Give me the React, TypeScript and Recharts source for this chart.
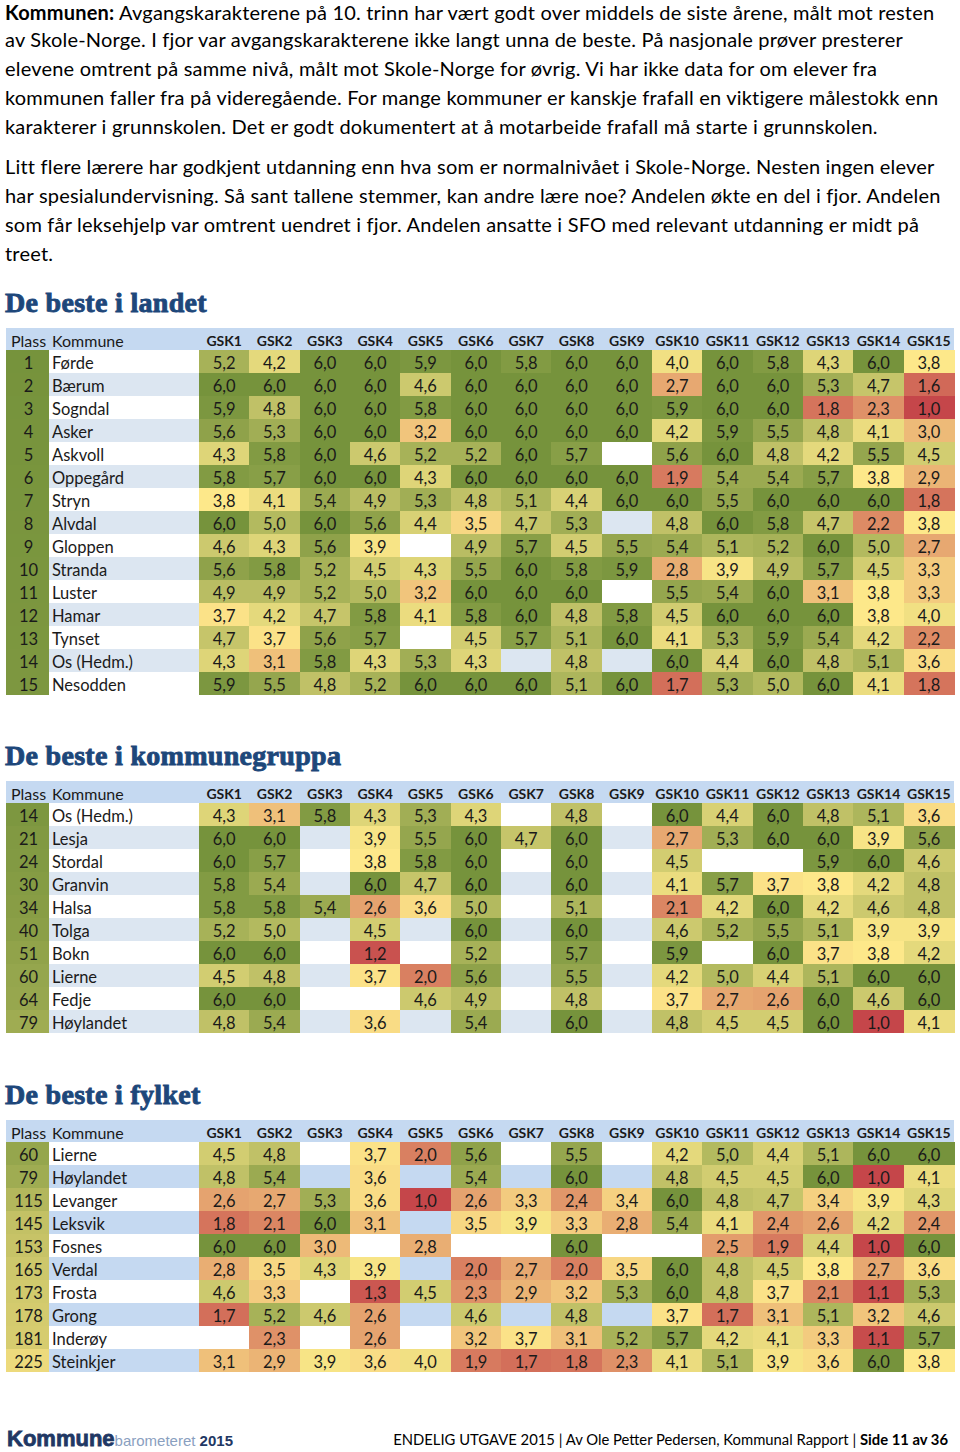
import React from 'react';
import { ScatterChart, Scatter, XAxis, YAxis } from 'recharts';

const _ = null;

const gskLabels = ['GSK1', 'GSK2', 'GSK3', 'GSK4', 'GSK5', 'GSK6', 'GSK7', 'GSK8', 'GSK9', 'GSK10', 'GSK11', 'GSK12', 'GSK13', 'GSK14', 'GSK15'];

const landetPlass = [1, 2, 3, 4, 5, 6, 7, 8, 9, 10, 11, 12, 13, 14, 15];
const landetKommuner = ['Førde', 'Bærum', 'Sogndal', 'Asker', 'Askvoll', 'Oppegård', 'Stryn', 'Alvdal', 'Gloppen', 'Stranda', 'Luster', 'Hamar', 'Tynset', 'Os (Hedm.)', 'Nesodden'];
const landetVerdier = [
  [5.2, 4.2, 6.0, 6.0, 5.9, 6.0, 5.8, 6.0, 6.0, 4.0, 6.0, 5.8, 4.3, 6.0, 3.8],
  [6.0, 6.0, 6.0, 6.0, 4.6, 6.0, 6.0, 6.0, 6.0, 2.7, 6.0, 6.0, 5.3, 4.7, 1.6],
  [5.9, 4.8, 6.0, 6.0, 5.8, 6.0, 6.0, 6.0, 6.0, 5.9, 6.0, 6.0, 1.8, 2.3, 1.0],
  [5.6, 5.3, 6.0, 6.0, 3.2, 6.0, 6.0, 6.0, 6.0, 4.2, 5.9, 5.5, 4.8, 4.1, 3.0],
  [4.3, 5.8, 6.0, 4.6, 5.2, 5.2, 6.0, 5.7, _, 5.6, 6.0, 4.8, 4.2, 5.5, 4.5],
  [5.8, 5.7, 6.0, 6.0, 4.3, 6.0, 6.0, 6.0, 6.0, 1.9, 5.4, 5.4, 5.7, 3.8, 2.9],
  [3.8, 4.1, 5.4, 4.9, 5.3, 4.8, 5.1, 4.4, 6.0, 6.0, 5.5, 6.0, 6.0, 6.0, 1.8],
  [6.0, 5.0, 6.0, 5.6, 4.4, 3.5, 4.7, 5.3, _, 4.8, 6.0, 5.8, 4.7, 2.2, 3.8],
  [4.6, 4.3, 5.6, 3.9, _, 4.9, 5.7, 4.5, 5.5, 5.4, 5.1, 5.2, 6.0, 5.0, 2.7],
  [5.6, 5.8, 5.2, 4.5, 4.3, 5.5, 6.0, 5.8, 5.9, 2.8, 3.9, 4.9, 5.7, 4.5, 3.3],
  [4.9, 4.9, 5.2, 5.0, 3.2, 6.0, 6.0, 6.0, _, 5.5, 5.4, 6.0, 3.1, 3.8, 3.3],
  [3.7, 4.2, 4.7, 5.8, 4.1, 5.8, 6.0, 4.8, 5.8, 4.5, 6.0, 6.0, 6.0, 3.8, 4.0],
  [4.7, 3.7, 5.6, 5.7, _, 4.5, 5.7, 5.1, 6.0, 4.1, 5.3, 5.9, 5.4, 4.2, 2.2],
  [4.3, 3.1, 5.8, 4.3, 5.3, 4.3, _, 4.8, _, 6.0, 4.4, 6.0, 4.8, 5.1, 3.6],
  [5.9, 5.5, 4.8, 5.2, 6.0, 6.0, 6.0, 5.1, 6.0, 1.7, 5.3, 5.0, 6.0, 4.1, 1.8],
];

const gruppePlass = [14, 21, 24, 30, 34, 40, 51, 60, 64, 79];
const gruppeKommuner = ['Os (Hedm.)', 'Lesja', 'Stordal', 'Granvin', 'Halsa', 'Tolga', 'Bokn', 'Lierne', 'Fedje', 'Høylandet'];
const gruppeVerdier = [
  [4.3, 3.1, 5.8, 4.3, 5.3, 4.3, _, 4.8, _, 6.0, 4.4, 6.0, 4.8, 5.1, 3.6],
  [6.0, 6.0, _, 3.9, 5.5, 6.0, 4.7, 6.0, _, 2.7, 5.3, 6.0, 6.0, 3.9, 5.6],
  [6.0, 5.7, _, 3.8, 5.8, 6.0, _, 6.0, _, 4.5, _, _, 5.9, 6.0, 4.6],
  [5.8, 5.4, _, 6.0, 4.7, 6.0, _, 6.0, _, 4.1, 5.7, 3.7, 3.8, 4.2, 4.8],
  [5.8, 5.8, 5.4, 2.6, 3.6, 5.0, _, 5.1, _, 2.1, 4.2, 6.0, 4.2, 4.6, 4.8],
  [5.2, 5.0, _, 4.5, _, 6.0, _, 6.0, _, 4.6, 5.2, 5.5, 5.1, 3.9, 3.9],
  [6.0, 6.0, _, 1.2, _, 5.2, _, 5.7, _, 5.9, _, 6.0, 3.7, 3.8, 4.2],
  [4.5, 4.8, _, 3.7, 2.0, 5.6, _, 5.5, _, 4.2, 5.0, 4.4, 5.1, 6.0, 6.0],
  [6.0, 6.0, _, _, 4.6, 4.9, _, 4.8, _, 3.7, 2.7, 2.6, 6.0, 4.6, 6.0],
  [4.8, 5.4, _, 3.6, _, 5.4, _, 6.0, _, 4.8, 4.5, 4.5, 6.0, 1.0, 4.1],
];

const fylketPlass = [60, 79, 115, 145, 153, 165, 173, 178, 181, 225];
const fylketKommuner = ['Lierne', 'Høylandet', 'Levanger', 'Leksvik', 'Fosnes', 'Verdal', 'Frosta', 'Grong', 'Inderøy', 'Steinkjer'];
const fylketVerdier = [
  [4.5, 4.8, _, 3.7, 2.0, 5.6, _, 5.5, _, 4.2, 5.0, 4.4, 5.1, 6.0, 6.0],
  [4.8, 5.4, _, 3.6, _, 5.4, _, 6.0, _, 4.8, 4.5, 4.5, 6.0, 1.0, 4.1],
  [2.6, 2.7, 5.3, 3.6, 1.0, 2.6, 3.3, 2.4, 3.4, 6.0, 4.8, 4.7, 3.4, 3.9, 4.3],
  [1.8, 2.1, 6.0, 3.1, _, 3.5, 3.9, 3.3, 2.8, 5.4, 4.1, 2.4, 2.6, 4.2, 2.4],
  [6.0, 6.0, 3.0, _, 2.8, _, _, 6.0, _, _, 2.5, 1.9, 4.4, 1.0, 6.0],
  [2.8, 3.5, 4.3, 3.9, _, 2.0, 2.7, 2.0, 3.5, 6.0, 4.8, 4.5, 3.8, 2.7, 3.6],
  [4.6, 3.3, _, 1.3, 4.5, 2.3, 2.9, 3.2, 5.3, 6.0, 4.8, 3.7, 2.1, 1.1, 5.3],
  [1.7, 5.2, 4.6, 2.6, _, 4.6, _, 4.8, _, 3.7, 1.7, 3.1, 5.1, 3.2, 4.6],
  [_, 2.3, _, 2.6, _, 3.2, 3.7, 3.1, 5.2, 5.7, 4.2, 4.1, 3.3, 1.1, 5.7],
  [3.1, 2.9, 3.9, 3.6, 4.0, 1.9, 1.7, 1.8, 2.3, 4.1, 5.1, 3.9, 3.6, 6.0, 3.8],
];

const paragraph1Lead = 'Kommunen:';
const paragraph1Lines = [
  ' Avgangskarakterene på 10. trinn har vært godt over middels de siste årene, målt mot resten',
  'av Skole-Norge. I fjor var avgangskarakterene ikke langt unna de beste. På nasjonale prøver presterer',
  'elevene omtrent på samme nivå, målt mot Skole-Norge for øvrig. Vi har ikke data for om elever fra',
  'kommunen faller fra på videregående. For mange kommuner er kanskje frafall en viktigere målestokk enn',
  'karakterer i grunnskolen. Det er godt dokumentert at å motarbeide frafall må starte i grunnskolen.',
];
const paragraph2Lines = [
  'Litt flere lærere har godkjent utdanning enn hva som er normalnivået i Skole-Norge. Nesten ingen elever',
  'har spesialundervisning. Så sant tallene stemmer, kan andre lære noe? Andelen økte en del i fjor. Andelen',
  'som får leksehjelp var omtrent uendret i fjor. Andelen ansatte i SFO med relevant utdanning er midt på',
  'treet.',
];

// ---------- layout & style ----------
const W = 960;
const ML = 6;
const MR = 6;
const YW = 193;
const PLASS_W = 43;
const HEAD_H = 22;
const ROW_H = 23;
const PLOT_W = W - ML - MR - YW;
const COL_W = PLOT_W / gskLabels.length;
const FONT = 'Lato, "Open Sans", sans-serif';
const HEADER_BG = '#c5d9f1';
const TEXT = '#1a1a1a';

const hexToRgb = (h: string) => [parseInt(h.slice(1, 3), 16), parseInt(h.slice(3, 5), 16), parseInt(h.slice(5, 7), 16)];
const scaleColor = (stops: [number, string][], v: number) => {
  if (v <= stops[0][0]) return stops[0][1];
  for (let i = 1; i < stops.length; i++) {
    if (v <= stops[i][0]) {
      const [v0, c0] = stops[i - 1];
      const [v1, c1] = stops[i];
      const t = (v - v0) / (v1 - v0);
      const a = hexToRgb(c0);
      const b = hexToRgb(c1);
      const m = a.map((x, k) => Math.round(x + (b[k] - x) * t));
      return `rgb(${m[0]},${m[1]},${m[2]})`;
    }
  }
  return stops[stops.length - 1][1];
};
const valueStops: [number, string][] = [[1.0, '#c5464a'], [3.8, '#fde88a'], [6.0, '#76933c']];
const rankStops: [number, string][] = [[1, '#76933c'], [240, '#f5df80']];

const fmt = (v: number) => v.toFixed(1).replace('.', ',');

type TableProps = {
  plass: number[];
  kommuner: string[];
  verdier: (number | null)[][];
  stripe: string;
};

function HeatTable({ plass, kommuner, verdier, stripe }: TableProps) {
  const data: { col: string; row: string; value: number | null }[] = [];
  kommuner.forEach((k, r) => {
    gskLabels.forEach((g, c) => {
      data.push({ col: g, row: k, value: verdier[r][c] });
    });
  });
  const height = HEAD_H + kommuner.length * ROW_H;
  const rowFill = (i: number) => (i % 2 === 0 ? '#ffffff' : stripe);

  const XTick = (props: any) => {
    const { x, payload, index } = props;
    return (
      <g>
        {index === 0 && (
          <g>
            <rect x={ML} y={0} width={W - ML - MR} height={HEAD_H} fill={HEADER_BG} />
            <text x={ML + 5} y={HEAD_H / 2 + 1} dominantBaseline="central" fontSize={16} fontFamily={FONT} fill={TEXT}>Plass</text>
            <text x={ML + PLASS_W + 3} y={HEAD_H / 2 + 1} dominantBaseline="central" fontSize={16} fontFamily={FONT} fill={TEXT}>Kommune</text>
          </g>
        )}
        <text x={x} y={HEAD_H / 2 + 1} textAnchor="middle" dominantBaseline="central" fontSize={14} fontWeight="bold" fontFamily={FONT} fill={TEXT}>
          {payload.value}
        </text>
      </g>
    );
  };

  const YTick = (props: any) => {
    const { y, payload } = props;
    const i = kommuner.indexOf(payload.value);
    return (
      <g>
        <rect x={ML} y={y - ROW_H / 2} width={PLASS_W} height={ROW_H + 0.5} fill={scaleColor(rankStops, plass[i])} shapeRendering="crispEdges" />
        <rect x={ML + PLASS_W} y={y - ROW_H / 2} width={YW - PLASS_W} height={ROW_H + 0.5} fill={rowFill(i)} shapeRendering="crispEdges" />
        <text x={ML + PLASS_W / 2 + 1} y={y + 1} textAnchor="middle" dominantBaseline="central" fontSize={16.5} fontFamily={FONT} fill={TEXT}>{plass[i]}</text>
        <text x={ML + PLASS_W + 3} y={y + 1} dominantBaseline="central" fontSize={16.5} fontFamily={FONT} fill={TEXT}>{payload.value}</text>
      </g>
    );
  };

  const Cell = (props: any) => {
    const { cx, cy, payload } = props;
    if (cx == null || cy == null) return <g />;
    const i = kommuner.indexOf(payload.row);
    const v = payload.value;
    return (
      <g>
        <rect
          x={cx - COL_W / 2}
          y={cy - ROW_H / 2}
          width={COL_W + 0.6}
          height={ROW_H + 0.6}
          fill={v == null ? rowFill(i) : scaleColor(valueStops, v)}
          shapeRendering="crispEdges"
        />
        {v != null && (
          <text x={cx} y={cy + 1} textAnchor="middle" dominantBaseline="central" fontSize={16.5} fontFamily={FONT} fill={TEXT}>
            {fmt(v)}
          </text>
        )}
      </g>
    );
  };

  return (
    <ScatterChart width={W} height={height} margin={{ top: 0, right: MR, bottom: 0, left: ML }}>
      <XAxis
        xAxisId={0}
        dataKey="col"
        type="category"
        orientation="top"
        allowDuplicatedCategory={false}
        height={HEAD_H}
        tickLine={false}
        axisLine={false}
        tickSize={0}
        tickMargin={0}
        interval={0}
        tick={XTick}
      />
      <YAxis
        yAxisId={0}
        dataKey="row"
        type="category"
        allowDuplicatedCategory={false}
        width={YW}
        reversed
        tickLine={false}
        axisLine={false}
        tickSize={0}
        tickMargin={0}
        interval={0}
        tick={YTick}
      />
      <Scatter data={data} shape={Cell} isAnimationActive={false} />
    </ScatterChart>
  );
}

const headingStyle = {
  fontFamily: '"Liberation Serif", "DejaVu Serif", serif',
  fontWeight: 'bold' as const,
  fontSize: 28,
  fill: '#1d477a',
  stroke: '#1d477a',
  strokeWidth: 0.9,
  letterSpacing: 0.3,
};

export default function App() {
  return (
    <div style={{ position: 'absolute', left: 0, top: 0, width: W, height: 1452, background: '#ffffff', overflow: 'hidden' }}>
      <svg width={W} height={1452} style={{ position: 'absolute', left: 0, top: 0 }}>
        <g fontFamily={FONT} fontSize={20} fill="#000" style={{ letterSpacing: 0.2 }}>
          {paragraph1Lines.map((line, i) => (
            <text key={`p1-${i}`} x={5} y={i === 0 ? 19.8 : 17.5 + i * 29}>
              {i === 0 && <tspan fontWeight="bold">{paragraph1Lead}</tspan>}
              {line}
            </text>
          ))}
          {paragraph2Lines.map((line, i) => (
            <text key={`p2-${i}`} x={5} y={174 + i * 29}>
              {line}
            </text>
          ))}
        </g>
        <text x={5} y={312} style={headingStyle}>De beste i landet</text>
        <text x={5} y={765} style={headingStyle}>De beste i kommunegruppa</text>
        <text x={5} y={1104} style={headingStyle}>De beste i fylket</text>
        <text x={7} y={1446} fontFamily='"Liberation Sans", sans-serif' fontWeight="bold" fontSize={22} fill="#1f3864" stroke="#1f3864" strokeWidth={0.8}>
          Kommune
          <tspan fontFamily='"Liberation Sans Narrow", "Liberation Sans", sans-serif' fontWeight="normal" fontSize={15} fill="#8aa0c0" stroke="none">barometeret </tspan>
          <tspan fontFamily='"Liberation Sans Narrow", "Liberation Sans", sans-serif' fontWeight="bold" fontSize={15} fill="#1f3864" stroke="none">2015</tspan>
        </text>
        <text x={948} y={1445} textAnchor="end" fontFamily={FONT} fontSize={14.8} fill="#000">
          ENDELIG UTGAVE 2015 | Av Ole Petter Pedersen, Kommunal Rapport | <tspan fontWeight="bold">Side 11 av 36</tspan>
        </text>
      </svg>
      <div style={{ position: 'absolute', left: 0, top: 328 }}>
        <HeatTable plass={landetPlass} kommuner={landetKommuner} verdier={landetVerdier} stripe="#dce6f1" />
      </div>
      <div style={{ position: 'absolute', left: 0, top: 781 }}>
        <HeatTable plass={gruppePlass} kommuner={gruppeKommuner} verdier={gruppeVerdier} stripe="#dce6f1" />
      </div>
      <div style={{ position: 'absolute', left: 0, top: 1120 }}>
        <HeatTable plass={fylketPlass} kommuner={fylketKommuner} verdier={fylketVerdier} stripe="#c5d9f1" />
      </div>
    </div>
  );
}
